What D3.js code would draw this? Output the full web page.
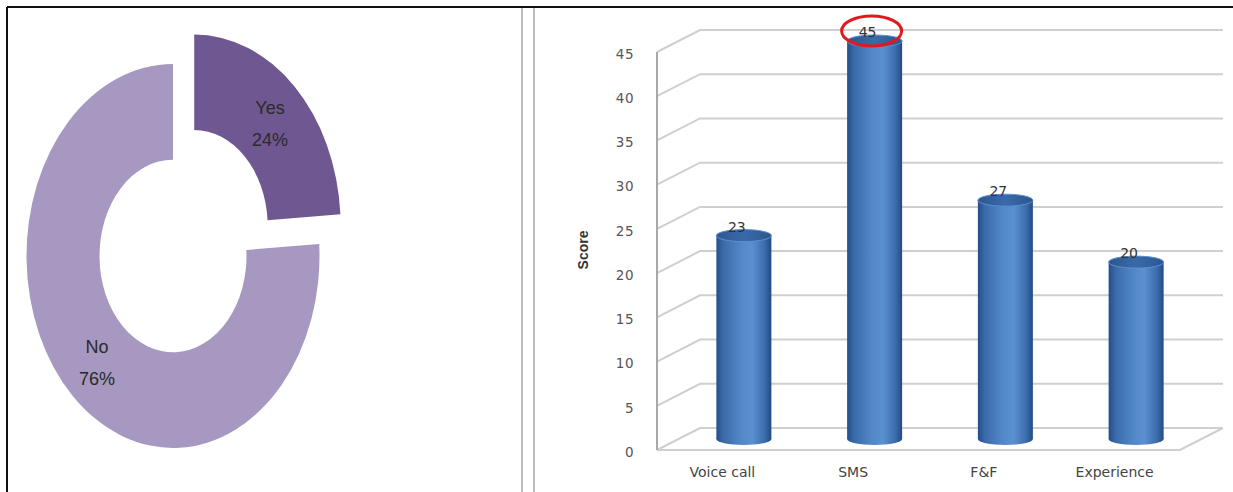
<!DOCTYPE html>
<html>
<head>
<meta charset="utf-8">
<script src="https://cdn.jsdelivr.net/npm/d3@7"></script>
<style>
  html, body { margin: 0; padding: 0; background: #fff; }
  svg { display: block; }
</style>
</head>
<body>
<svg id="chart" width="1233" height="492"></svg>
<script>
// Donut: share answering Yes / No
const pieLabels = ["Yes", "No"];
const pieValues = [24, 76];

// Cylinder bars: score per service
const categories = ["Voice call", "SMS", "F&F", "Experience"];
const scores = [23, 45, 27, 20];
const yTicks = [0, 5, 10, 15, 20, 25, 30, 35, 40, 45];
const yTitle = "Score";

const svg = d3.select("#chart");

// ---- frame ----
svg.append("line").attr("x1", 7).attr("x2", 1233).attr("y1", 7).attr("y2", 7)
  .attr("stroke", "#111").attr("stroke-width", 2);
svg.append("line").attr("x1", 7).attr("x2", 7).attr("y1", 7).attr("y2", 492)
  .attr("stroke", "#111").attr("stroke-width", 2);
[522, 534].forEach(x => {
  svg.append("line").attr("x1", x).attr("x2", x).attr("y1", 8).attr("y2", 492)
    .attr("stroke", "#bdbdbd").attr("stroke-width", 2);
});

// ---- donut ----
const pieColors = d3.scaleOrdinal().domain(pieLabels).range(["#6f5892", "#a698c1"]);
const cx = 173, cy = 256, stretch = 1.31;
const rOuter = 146.5, rInner = 73.5;
const pie = d3.pie().sort(null).value(d => d.v);
const arcs = pie(pieLabels.map((k, i) => ({ k, v: pieValues[i] })));
const arc = d3.arc().innerRadius(rInner).outerRadius(rOuter);
const explode = 31;

const donut = svg.append("g").attr("transform", `translate(${cx},${cy}) scale(1,${stretch})`);
donut.selectAll("path").data(arcs).join("path")
  .attr("d", arc)
  .attr("fill", d => pieColors(d.data.k))
  .attr("transform", d => {
    if (d.data.k !== "Yes") return null;
    const a = (d.startAngle + d.endAngle) / 2;
    return `translate(${Math.sin(a) * explode},${-Math.cos(a) * explode})`;
  });

const pieLabelPos = { Yes: [270, 108], No: [97, 347] };
arcs.forEach(d => {
  const [lx, ly] = pieLabelPos[d.data.k];
  const t = svg.append("text")
    .attr("x", lx).attr("y", ly)
    .attr("text-anchor", "middle")
    .attr("font-family", "'Liberation Sans Narrow', 'Arial Narrow', 'Liberation Sans', sans-serif")
    .attr("font-size", 18)
    .attr("fill", "#2a2a2a");
  t.append("tspan").attr("x", lx).attr("dy", "0.35em").text(d.data.k);
  t.append("tspan").attr("x", lx).attr("dy", "1.75em").text(d.data.v + "%");
});

// ---- 3D cylinder bar chart ----
const x0 = 657, x1 = 1180;
const depthX = 43, depthY = -22;
const y = d3.scaleLinear().domain([0, 45]).range([450, 52]);
const x = d3.scaleBand().domain(categories).range([x0, x1]).padding(0);

const grid = svg.append("g");
yTicks.forEach(t => {
  const yf = y(t);
  grid.append("polyline")
    .attr("points", `${x0},${yf} ${x0 + depthX},${yf + depthY} ${x1 + depthX},${yf + depthY}`)
    .attr("fill", "none").attr("stroke", "#cfcfcf").attr("stroke-width", 2);
});
// floor front edge and right side
grid.append("polyline")
  .attr("points", `${x0},${y(0)} ${x1},${y(0)} ${x1 + depthX},${y(0) + depthY}`)
  .attr("fill", "none").attr("stroke", "#cfcfcf").attr("stroke-width", 2);
// vertical axis
grid.append("line").attr("x1", x0).attr("x2", x0).attr("y1", y(45)).attr("y2", y(0))
  .attr("stroke", "#a8a8a8").attr("stroke-width", 2);

// tick labels
const axis = d3.axisLeft(y).tickValues(yTicks).tickSize(0).tickPadding(0);
const axisG = svg.append("g").attr("transform", `translate(634,2)`).call(axis);
axisG.select(".domain").remove();
axisG.selectAll("text")
  .attr("font-family", "'DejaVu Sans', sans-serif")
  .attr("font-size", 13.5)
  .attr("letter-spacing", 0.5)
  .attr("fill", "#555");

// axis title
svg.append("text")
  .attr("transform", "translate(588,250) rotate(-90)")
  .attr("text-anchor", "middle")
  .attr("font-family", "'Liberation Sans Narrow', 'Arial Narrow', 'Liberation Sans', sans-serif")
  .attr("font-size", 14).attr("font-weight", "bold")
  .attr("fill", "#333")
  .text(yTitle);

// category labels
svg.append("g").selectAll("text").data(categories).join("text")
  .attr("x", d => x(d) + x.bandwidth() / 2)
  .attr("y", 477)
  .attr("text-anchor", "middle")
  .attr("font-family", "'DejaVu Sans', sans-serif")
  .attr("font-size", 14)
  .attr("fill", "#444")
  .text(d => d);

// gradients for cylinders
const defs = svg.append("defs");
const body = defs.append("linearGradient").attr("id", "cylBody").attr("x1", "0").attr("x2", "1");
[[0, "#244d86"], [0.12, "#3a69a9"], [0.45, "#5288c8"], [0.65, "#5a90d0"], [0.88, "#3c6cab"], [1, "#234a82"]]
  .forEach(([o, c]) => body.append("stop").attr("offset", o).attr("stop-color", c));
const cap = defs.append("linearGradient").attr("id", "cylCap").attr("x1", "0").attr("x2", "1");
[[0, "#2c5690"], [0.5, "#3b6aa9"], [1, "#2c5690"]]
  .forEach(([o, c]) => cap.append("stop").attr("offset", o).attr("stop-color", c));

const barW = 55, capRy = 6;
const midX = depthX / 2, midY = depthY / 2;
const bars = svg.append("g").selectAll("g").data(categories.map((c, i) => ({ c, v: scores[i] }))).join("g");

bars.each(function (d) {
  const g = d3.select(this);
  const cxb = x(d.c) + x.bandwidth() / 2 + midX;
  const base = y(0) + midY;
  const top = y(d.v) + midY;
  g.append("ellipse").attr("cx", cxb).attr("cy", base).attr("rx", barW / 2).attr("ry", capRy)
    .attr("fill", "url(#cylBody)");
  g.append("rect").attr("x", cxb - barW / 2).attr("y", top).attr("width", barW).attr("height", base - top)
    .attr("fill", "url(#cylBody)");
  g.append("ellipse").attr("cx", cxb).attr("cy", top).attr("rx", barW / 2).attr("ry", capRy)
    .attr("fill", "url(#cylCap)").attr("stroke", "#5d8fcf").attr("stroke-width", 1);
  g.append("text")
    .attr("x", cxb - 7).attr("y", top - capRy + 2)
    .attr("text-anchor", "middle")
    .attr("font-family", "'DejaVu Sans', sans-serif")
    .attr("font-size", 14)
    .attr("fill", "#333")
    .text(d.v);
});

// highlight ring around the top score
const maxI = scores.indexOf(d3.max(scores));
const hx = x(categories[maxI]) + x.bandwidth() / 2 + midX - 3;
const hy = y(scores[maxI]) + midY - 10;
svg.append("ellipse").attr("cx", hx).attr("cy", hy).attr("rx", 30).attr("ry", 15)
  .attr("fill", "none").attr("stroke", "#e0191e").attr("stroke-width", 3);
</script>
</body>
</html>
